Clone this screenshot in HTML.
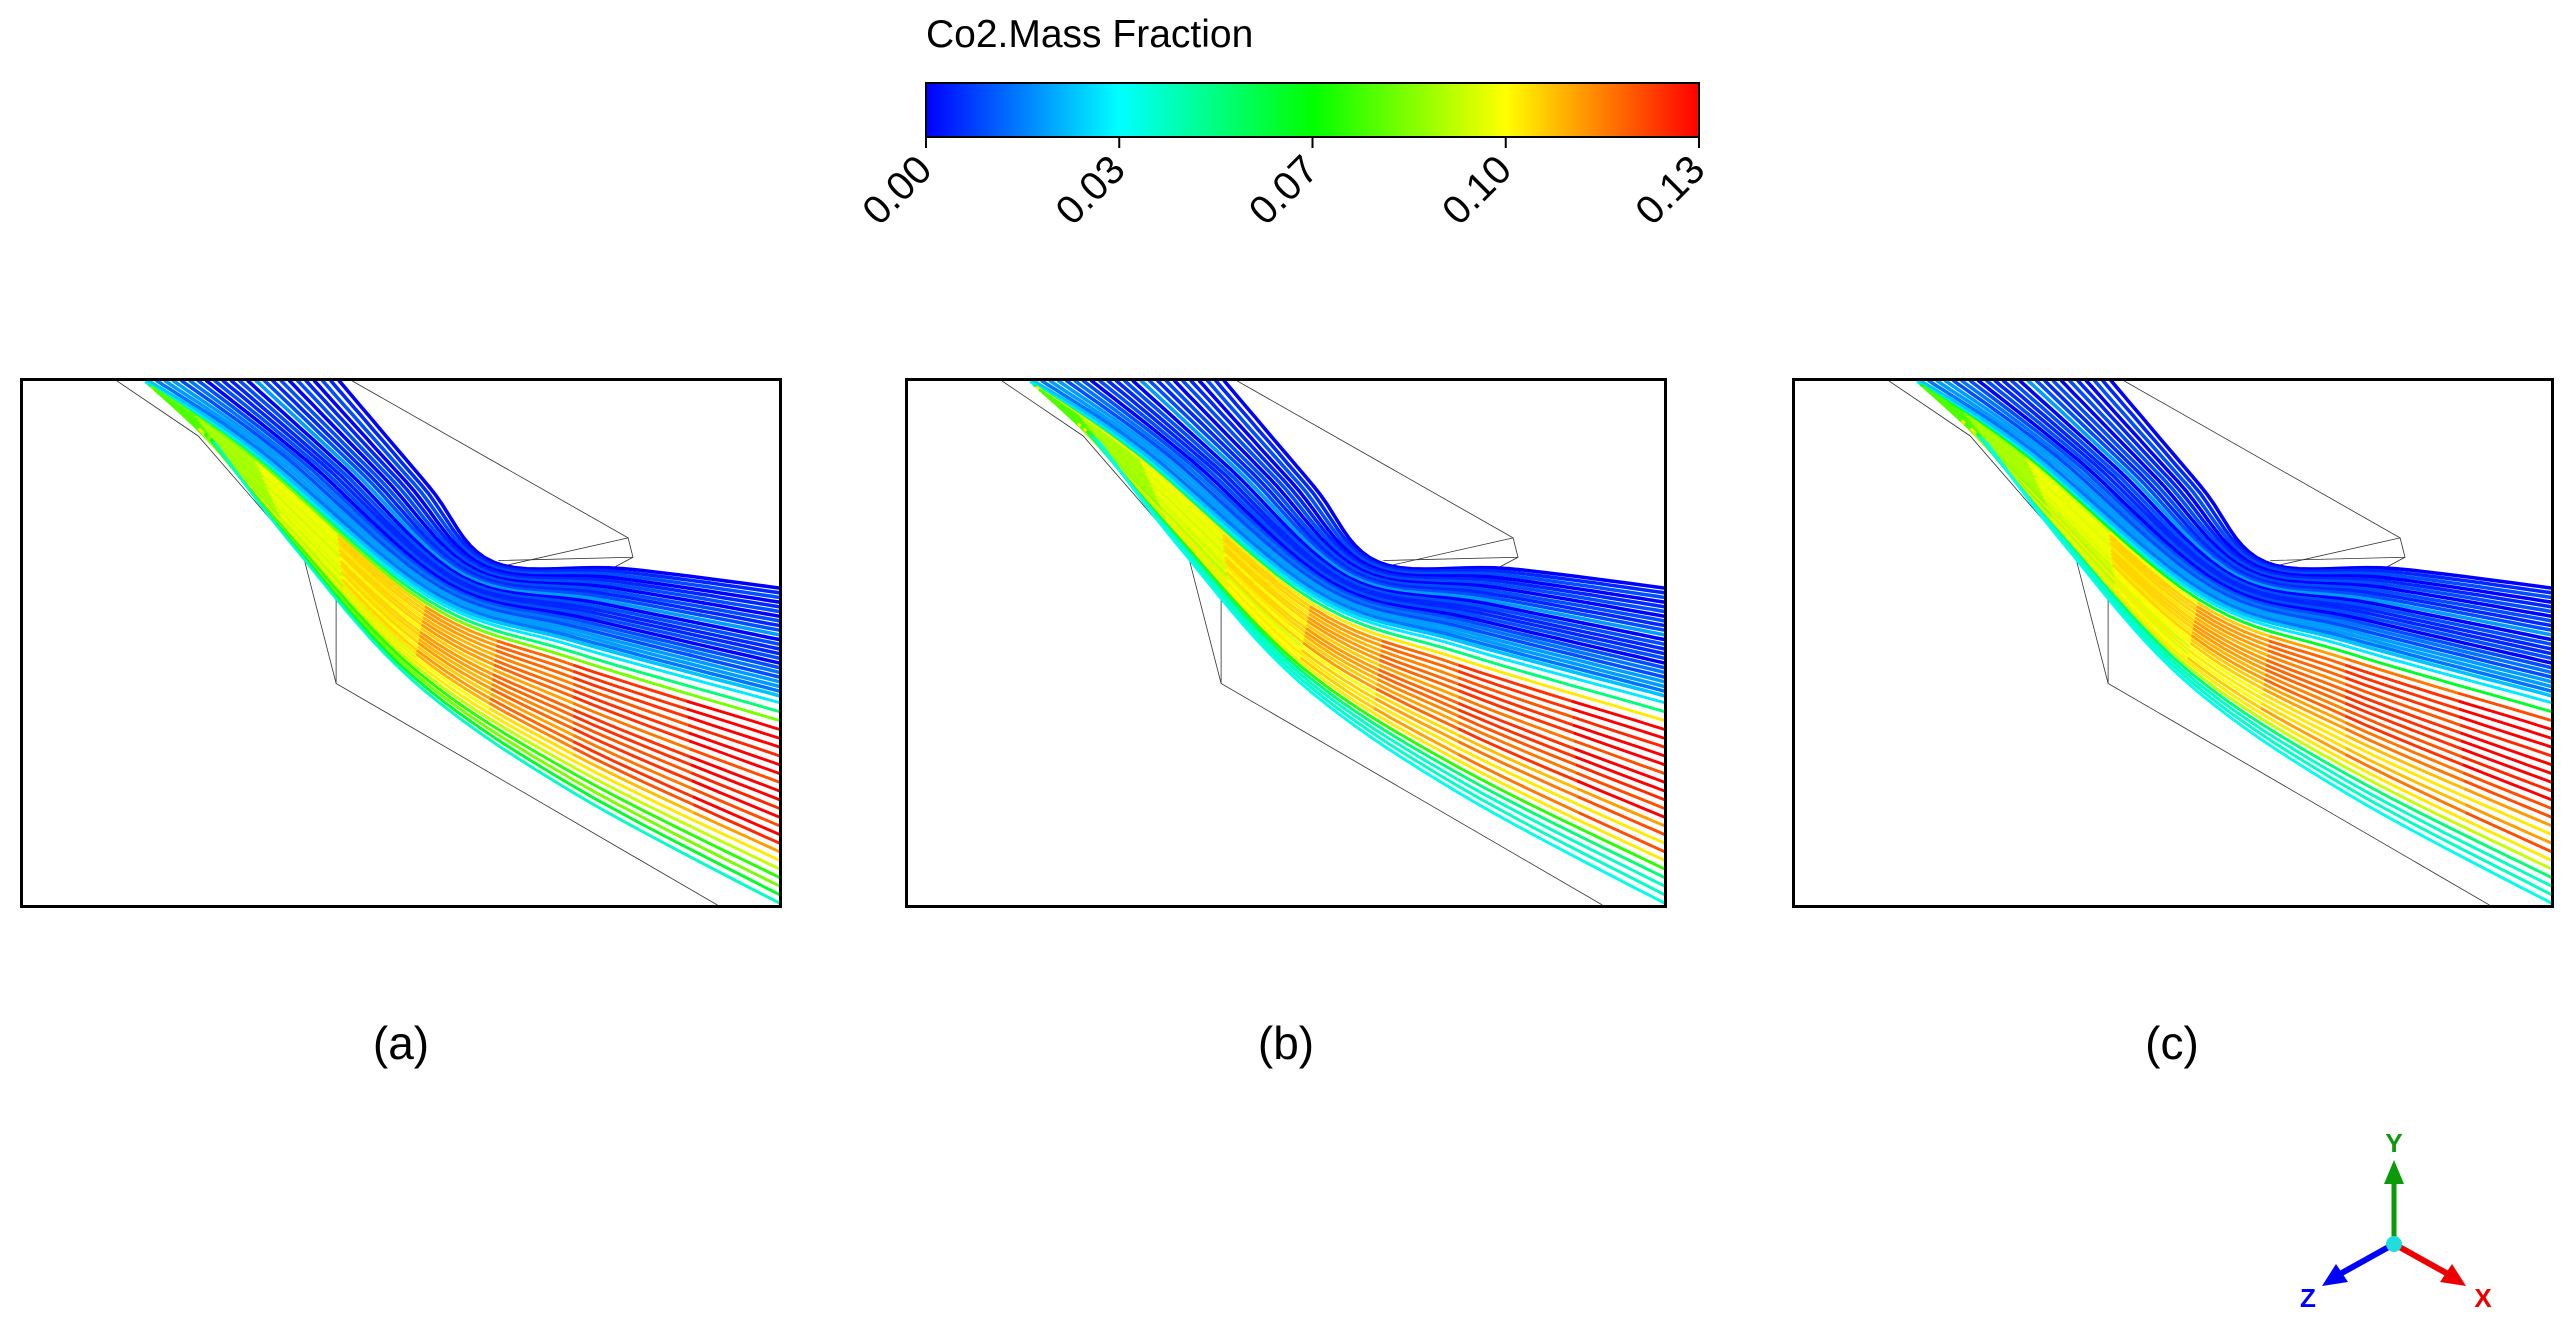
<!DOCTYPE html>
<html><head><meta charset="utf-8"><style>
body{margin:0;background:#fff;width:2566px;height:1331px;overflow:hidden;position:relative;font-family:"Liberation Sans",sans-serif}
.panel{position:absolute;top:378px;width:762px;height:530px;box-sizing:border-box;border:3px solid #000}
.lab{position:absolute;top:1016px;font-size:46px;width:120px;text-align:center}
</style></head><body>
<svg width="2566" height="280" style="position:absolute;left:0;top:0">
<defs><linearGradient id="jet" x1="0" x2="1"><stop offset="0" stop-color="#0000ff"/><stop offset="0.25" stop-color="#00ffff"/><stop offset="0.5" stop-color="#00ff00"/><stop offset="0.75" stop-color="#ffff00"/><stop offset="1" stop-color="#ff0000"/></linearGradient></defs>
<text x="926" y="47" font-size="39" font-family="Liberation Sans">Co2.Mass Fraction</text>
<rect x="926" y="83" width="773" height="54" fill="url(#jet)" stroke="#000" stroke-width="2"/>
<g id="ticks"></g>
</svg>
<div class="panel" style="left:20px"><svg id="pa" width="756" height="524" viewBox="0 0 466 324" preserveAspectRatio="none"></svg></div>
<div class="panel" style="left:905px"><svg id="pb" width="756" height="524" viewBox="0 0 466 324" preserveAspectRatio="none"></svg></div>
<div class="panel" style="left:1792px"><svg id="pc" width="756" height="524" viewBox="0 0 466 324" preserveAspectRatio="none"></svg></div>
<div class="lab" style="left:341px">(a)</div>
<div class="lab" style="left:1226px">(b)</div>
<div class="lab" style="left:2112px">(c)</div>
<svg width="2566" height="1331" style="position:absolute;left:0;top:0;pointer-events:none">
<line x1="2394" y1="1244" x2="2394" y2="1180" stroke="#0a9a0a" stroke-width="5"/><polygon points="2394,1160 2384,1184 2404,1184" fill="#0a9a0a"/>
<line x1="2394" y1="1244" x2="2340" y2="1274" stroke="#0000ff" stroke-width="6"/><polygon points="2322,1286 2336,1264 2348,1282" fill="#0000ff"/>
<line x1="2394" y1="1244" x2="2448" y2="1274" stroke="#ee0000" stroke-width="6"/><polygon points="2466,1286 2452,1264 2440,1282" fill="#ee0000"/>
<circle cx="2394" cy="1244" r="8" fill="#22dddd"/>
<text x="2394" y="1152" font-size="26" font-weight="bold" fill="#0a9a0a" text-anchor="middle">Y</text>
<text x="2308" y="1307" font-size="26" font-weight="bold" fill="#0000ff" text-anchor="middle">Z</text>
<text x="2483" y="1307" font-size="26" font-weight="bold" fill="#ee0000" text-anchor="middle">X</text>
</svg>
<script>
const tickVals=[0,0.0325,0.065,0.0975,0.13];
const tickLabels=["0.00","0.03","0.07","0.10","0.13"];
const vMax=0.13;
const endA=[0,0.005,0.01,0,0.005,0.01,0,0.01,0.005,0.01,0.02,0,0.01,0.005,0.005,0.01,0,0.01,0.015,0.01,0.02,0.02,0.015,0.025,0.03,0.05,0.08,0.13,0.13,0.13,0.125,0.13,0.13,0.12,0.13,0.13,0.125,0.13,0.12,0.13,0.125,0.11,0.1,0.09,0.07,0.08,0.06,0.04];
const endB=[0,0.005,0.01,0,0.005,0.01,0,0.01,0.005,0.01,0.02,0,0.01,0.005,0.005,0.01,0,0.01,0.015,0.01,0.02,0.02,0.015,0.025,0.03,0.05,0.1,0.13,0.13,0.125,0.13,0.13,0.12,0.13,0.13,0.125,0.12,0.13,0.11,0.12,0.1,0.12,0.1,0.07,0.05,0.04,0.04,0.035];
const endC=[0,0.005,0.01,0,0.005,0.01,0,0.01,0.005,0.01,0.02,0,0.01,0.005,0.005,0.01,0,0.01,0.015,0.01,0.02,0.02,0.015,0.025,0.03,0.06,0.12,0.13,0.13,0.13,0.125,0.13,0.13,0.13,0.125,0.13,0.12,0.12,0.11,0.1,0.11,0.12,0.1,0.09,0.05,0.04,0.04,0.035];
const anchorA=[[195,0],[250,65],[290,112],[370,116],[466,128]];
const anchorB=[[75,0],[140,42],[250,132],[340,162],[466,196]];
const anchorC=[[118,38],[165,100],[240,185],[340,255],[480,330]];
function jet(v){let t=Math.max(0,Math.min(1,v/vMax));const st=[[0,0,255],[0,255,255],[0,255,0],[255,255,0],[255,0,0]];let i=Math.min(3,Math.floor(t*4)),f=t*4-i;const a=st[i],b=st[i+1];return `rgb(${a.map((c,k)=>Math.round(c+(b[k]-c)*f)).join(',')})`;}
const ns="http://www.w3.org/2000/svg";
const tg=document.getElementById('ticks');
tickVals.forEach((v,i)=>{const x=926+773*v/vMax;
 const l=document.createElementNS(ns,'line');l.setAttribute('x1',x);l.setAttribute('x2',x);l.setAttribute('y1',137);l.setAttribute('y2',148);l.setAttribute('stroke','#000');l.setAttribute('stroke-width',2);
 
 tg.appendChild(l);
 const t=document.createElementNS(ns,'text');t.textContent=tickLabels[i];t.setAttribute('font-size','40');t.setAttribute('text-anchor','end');
 t.setAttribute('transform',`translate(${x+8},${172}) rotate(-45)`);
 
 tg.appendChild(t);});
function cr(p,n){const out=[];for(let i=0;i<p.length-1;i++){const p0=p[Math.max(0,i-1)],p1=p[i],p2=p[i+1],p3=p[Math.min(p.length-1,i+2)];for(let j=0;j<n;j++){const t=j/n,t2=t*t,t3=t2*t;out.push([0,1].map(k=>0.5*(2*p1[k]+(-p0[k]+p2[k])*t+(2*p0[k]-5*p1[k]+4*p2[k]-p3[k])*t2+(-p0[k]+3*p1[k]-3*p2[k]+p3[k])*t3)));}}out.push(p[p.length-1]);return out;}
function draw(id,ends){const svg=document.getElementById(id);
 const ol=[[[58,0],[108,34],[173,109],[193,187],[428,324]],[[193,187],[193,100]],[[203,0],[373,97],[376,109],[293,111]],[[280,118],[348,124],[376,109]],[[373,97],[280,118]]];
 ol.forEach(o=>{const p=document.createElementNS(ns,'polyline');p.setAttribute('points',o.map(q=>q.join(',')).join(' '));p.setAttribute('fill','none');p.setAttribute('stroke','#333');p.setAttribute('stroke-width','0.5');
  
  svg.appendChild(p);});
 const N=ends.length;
 ends.forEach((ev,i)=>{const s=i/(N-1);let pts;
  if(s<=0.5){const f=s/0.5;pts=anchorA.map((a,k)=>[a[0]+(anchorB[k][0]-a[0])*f,a[1]+(anchorB[k][1]-a[1])*f]);}
  else{const f=(s-0.5)/0.5;pts=anchorB.map((a,k)=>[a[0]+(anchorC[k][0]-a[0])*f,a[1]+(anchorC[k][1]-a[1])*f]);}
  const sp=cr(pts,10);const sv=ev>0.1?0.075:ev;const seg=8;
  for(let c=0;c<seg;c++){const a=Math.floor(c*sp.length/seg),b=Math.min(sp.length,Math.floor((c+1)*sp.length/seg)+1);
   const v=sv+(ev-sv)*Math.pow(c/(seg-1),0.8);
   const p=document.createElementNS(ns,'polyline');p.setAttribute('points',sp.slice(a,b).map(q=>q[0].toFixed(1)+','+q[1].toFixed(1)).join(' '));
   p.setAttribute('fill','none');p.setAttribute('stroke',jet(v));p.setAttribute('stroke-width',ev<0.04&&i<24?'2.2':'1.8');p.setAttribute('stroke-linecap','round');
   
   svg.appendChild(p);}
 });}
draw('pa',endA);draw('pb',endB);draw('pc',endC);
</script>
</body></html>
